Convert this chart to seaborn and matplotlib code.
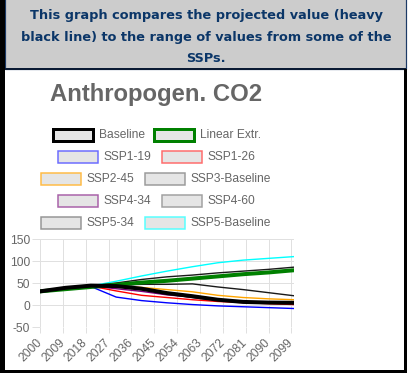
import matplotlib
matplotlib.use("Agg")
import matplotlib.pyplot as plt
import seaborn as sns
import pandas as pd
from matplotlib.patches import Rectangle

# ---------------- data ----------------
years = [2000, 2010, 2020, 2030, 2040, 2050, 2060, 2070, 2080, 2090, 2100]
baseline      = [31, 39, 44, 43, 37, 27, 20, 12, 7, 5.5, 5]
linear_extr   = [31, 36, 41, 46, 51, 55, 60, 65, 70, 74, 79]
ssp1_19       = [31, 39, 42, 18, 10, 5, 1, -2, -4, -6, -8]
ssp1_26       = [31, 39, 43, 32, 22, 17, 12, 8, 5.5, 3, 1]
ssp2_45       = [31, 39, 43, 44, 40, 35, 30, 22, 17, 14, 12]
ssp3_baseline = [31, 39, 43, 50, 58, 64, 68, 73, 77, 81, 86]
ssp4_34       = [31, 39, 43, 37, 31, 23, 18, 11, 7, 5, 4]
ssp4_60       = [31, 39, 43, 45, 47, 47, 48, 41, 35, 28, 21]
ssp5_34       = [31, 39, 43, 42, 35, 25, 17, 10, 6, 4, 3]
ssp5_baseline = [31, 39, 43, 54, 66, 77, 87, 96, 102, 106, 110]

series_names = ["Baseline", "Linear Extr.", "SSP1-19", "SSP1-26", "SSP2-45",
                "SSP3-Baseline", "SSP4-34", "SSP4-60", "SSP5-34", "SSP5-Baseline"]
series_values = [baseline, linear_extr, ssp1_19, ssp1_26, ssp2_45,
                 ssp3_baseline, ssp4_34, ssp4_60, ssp5_34, ssp5_baseline]

x_tick_labels = [2000, 2009, 2018, 2027, 2036, 2045, 2054, 2063, 2072, 2081, 2090, 2099]
y_tick_labels = [-50, 0, 50, 100, 150]

title = "Anthropogen. CO2"
header_lines = ["This graph compares the projected value (heavy",
                "black line) to the range of values from some of the",
                "SSPs."]

# ---------------- styles ----------------
line_colors = ["#000000", "#008000", "#0000ff", "#ff0000", "#ffa500",
               "#1a1a1a", "#800080", "#1a1a1a", "#1a1a1a", "#00ffff"]
legend_edges = ["#000000", "#008000", "#6b6bff", "#ff6b6b", "#ffbb44",
                "#9a9a9a", "#a860a8", "#a0a0a0", "#959595", "#55ffff"]
PX = 0.72  # points per pixel at 100 dpi
line_widths_px = [4, 4, 1.4, 1.4, 1.4, 1.4, 1.4, 1.4, 1.4, 1.4]
legend_lw_px = [3, 3, 1.5, 1.5, 1.5, 1.5, 1.5, 1.5, 1.5, 1.5]

sns.set_theme(style="white")
plt.rcParams["font.family"] = ["Liberation Sans", "DejaVu Sans"]

W, H = 408, 373
fig = plt.figure(figsize=(W / 100, H / 100), dpi=100)

# background / frame layer in pixel coordinates
bg = fig.add_axes([0, 0, 1, 1], zorder=0)
bg.set_xlim(0, W)
bg.set_ylim(H, 0)
bg.axis("off")
bg.add_patch(Rectangle((0, 0), W, H, facecolor="white", edgecolor="none"))
bg.add_patch(Rectangle((5, -2), 400.5, 71, facecolor="#cccccc",
                       edgecolor="#1c3a66", lw=1.2 * PX))
bg.add_patch(Rectangle((4, 68), 402, 2, facecolor="#0a1a33", edgecolor="none"))
bg.add_patch(Rectangle((0, 0), 4.5, H, facecolor="black", edgecolor="none"))
bg.add_patch(Rectangle((404, 69), 3, H - 69, facecolor="black", edgecolor="none"))
bg.add_patch(Rectangle((0, 370), 407, 4, facecolor="black", edgecolor="none"))

for i, (txt, yy) in enumerate(zip(header_lines, [15, 37, 58])):
    bg.text(206, yy, txt, ha="center", va="center", family="DejaVu Sans",
            weight="bold", fontsize=9.3, color="#0b3668")

bg.text(50, 95, title, ha="left", va="center", fontsize=17.2,
        weight="bold", color="#666666")

# legend (chart.js style boxes)
legend_rows_y = [135, 157, 179.3, 201.3, 223.3]
legend_box_x = [52.5, 154, 57.5, 161.5, 40.5, 145, 57.5, 161.5, 40.5, 145]
for i, name in enumerate(series_names):
    cy = legend_rows_y[i // 2]
    bx = legend_box_x[i]
    bg.add_patch(Rectangle((bx, cy - 6), 40, 12, facecolor="#e5e5e5",
                           edgecolor=legend_edges[i], lw=legend_lw_px[i] * PX))
    bg.text(bx + 46, cy, name, ha="left", va="center", fontsize=8.64,
            color="#666666")

# ---------------- plot ----------------
ax = fig.add_axes([40 / W, 46 / H, 254 / W, 88 / H], zorder=2)
ax.patch.set_alpha(0)

n = len(series_names)
for i in reversed(range(n)):
    df = pd.DataFrame({"year": years, "value": series_values[i]})
    sns.lineplot(data=df, x="year", y="value", ax=ax, color=line_colors[i],
                 linewidth=line_widths_px[i] * PX, estimator=None,
                 legend=False, zorder=3 + (n - i))

ax.set_xlim(2000, 2100)
ax.set_ylim(-50, 150)
ax.set_xticks(x_tick_labels)
ax.set_xticklabels([str(v) for v in x_tick_labels], rotation=45,
                   ha="right", va="center", rotation_mode="anchor")
ax.set_yticks(y_tick_labels)
ax.set_yticklabels([str(v) for v in y_tick_labels])
ax.set_xlabel("")
ax.set_ylabel("")
ax.grid(True, color="#e0e0e0", linewidth=1 * PX)
ax.set_axisbelow(True)
for s in ax.spines.values():
    s.set_visible(False)
ax.tick_params(axis="x", length=6 * PX, width=1 * PX, color="#e0e0e0",
               pad=8 * PX, labelsize=8.64, labelcolor="#666666", bottom=True)
ax.tick_params(axis="y", length=8 * PX, width=1 * PX, color="#e0e0e0",
               pad=2 * PX, labelsize=8.64, labelcolor="#666666", left=True)

fig.savefig("out.png", dpi=100)
